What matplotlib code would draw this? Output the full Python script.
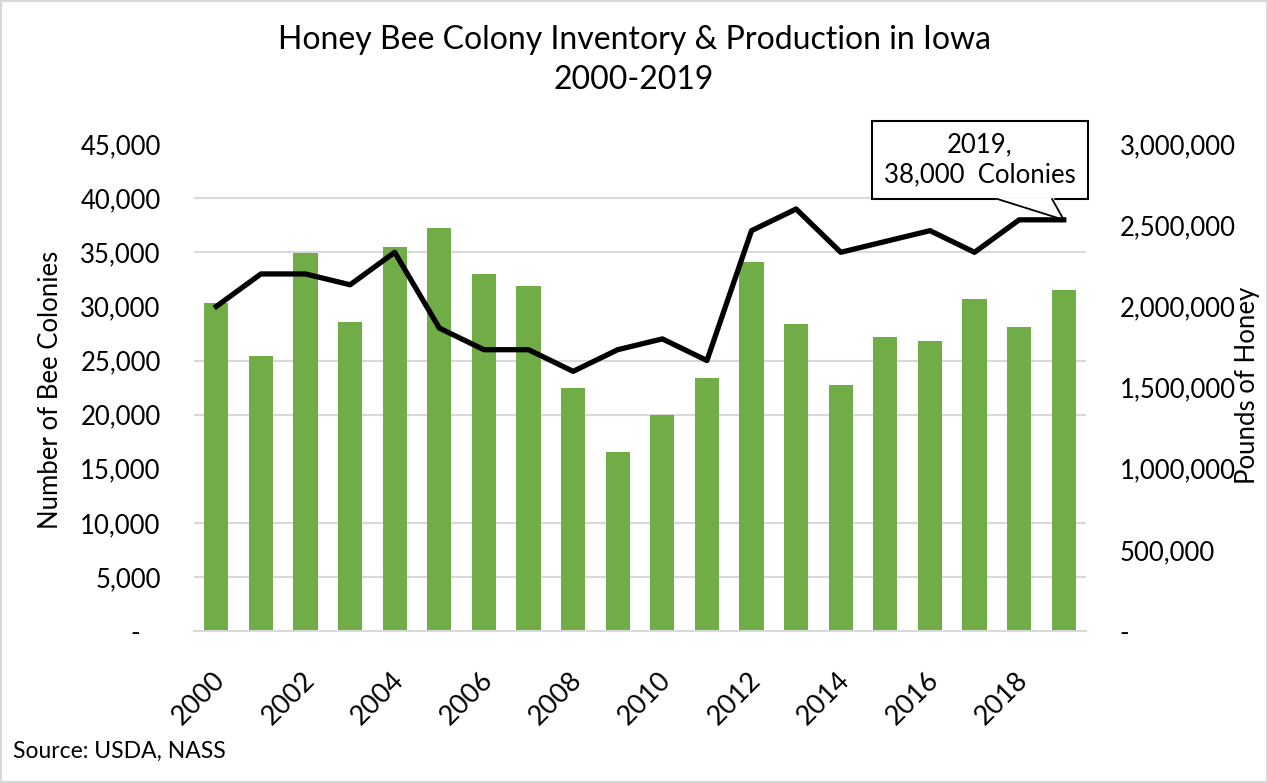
import matplotlib
matplotlib.use('Agg')

import numpy as np
import matplotlib.pyplot as plt
from matplotlib.ticker import FuncFormatter, FixedLocator, MultipleLocator
from matplotlib.patches import Rectangle
from matplotlib.lines import Line2D
from matplotlib.transforms import ScaledTranslation

# data
years = list(range(2000, 2020))
colonies = [30000, 33000, 33000, 32000, 35000, 28000, 26000, 26000, 24000, 26000,
            27000, 25000, 37000, 39000, 35000, 36000, 37000, 35000, 38000, 38000]
honey_lbs = [2022000, 1697000, 2326000, 1901000, 2363000, 2480000, 2197000, 2123000, 1500000, 1106000,
             1334000, 1562000, 2271000, 1889000, 1519000, 1813000, 1790000, 2043000, 1876000, 2102000]

plt.rcParams['font.family'] = ['Lato', 'DejaVu Sans']

fig = plt.figure(figsize=(12.68, 7.83), dpi=100)
ax = fig.add_axes([0.153, 0.194, 0.7035, 0.622])
ax2 = ax.twinx()
x = np.arange(len(years))

# bars = pounds of honey (right axis)
ax2.bar(x, honey_lbs, width=0.54, color='#70AD47', zorder=2)
ax2.set_ylim(0, 3000000)
ax2.yaxis.set_major_locator(MultipleLocator(500000))
ax2.yaxis.set_minor_locator(FixedLocator(np.linspace(0, 3000000, 10)))
ax2.grid(which='minor', axis='y', color='#D9D9D9', lw=1.5)
ax2.set_axisbelow(True)
ax2.tick_params(axis='y', which='both', length=0, labelsize=18.5, pad=24)
ax2.yaxis.set_major_formatter(FuncFormatter(lambda v, p: '-' if v == 0 else f'{v:,.0f}'))

# line = number of colonies (left axis), drawn on top
ax.set_zorder(ax2.get_zorder() + 1)
ax.patch.set_visible(False)
ax.plot(x, colonies, color='black', lw=3.8, zorder=3)
ax.set_ylim(0, 45000)
ax.set_xlim(-0.5, len(years) - 0.5)
ax.yaxis.set_major_locator(MultipleLocator(5000))
ax.yaxis.set_major_formatter(FuncFormatter(lambda v, p: '-   ' if v == 0 else f'{v:,.0f}'))
ax.tick_params(axis='y', length=0, labelsize=18.5, pad=24)

ax.set_xticks(x[::2])
ax.set_xticklabels(years[::2], rotation=45, ha='right', va='center', rotation_mode='anchor')
ax.tick_params(axis='x', length=0, labelsize=19.5, pad=0)
offset = ScaledTranslation(0.05, -0.45, fig.dpi_scale_trans)
for lbl in ax.get_xticklabels():
    lbl.set_transform(lbl.get_transform() + offset)

for a in (ax, ax2):
    for s in a.spines.values():
        s.set_visible(False)
ax.spines['bottom'].set_visible(True)
ax.spines['bottom'].set_color('#D9D9D9')
ax.spines['bottom'].set_linewidth(1.5)

# callout for the last point
bx0, by0, bw, bh = 0.760, 0.887, 0.242, 0.160
ax.add_patch(Rectangle((bx0, by0), bw, bh, transform=ax.transAxes, facecolor='white',
                       edgecolor='black', lw=1.5, clip_on=False, zorder=10))
tip = ax.transAxes.inverted().transform(ax.transData.transform((x[-1], colonies[-1])))
b1, b2 = 0.901, 0.962
ax.add_line(Line2D([b1, b2], [by0, by0], transform=ax.transAxes, color='white', lw=2.5,
                   clip_on=False, zorder=11))
ax.add_line(Line2D([b1, tip[0], b2], [by0, tip[1], by0], transform=ax.transAxes, color='black',
                   lw=1.3, clip_on=False, zorder=12))
ax.text(bx0 + bw / 2, by0 + bh / 2, f'{years[-1]},\n{colonies[-1]:,}  Colonies', transform=ax.transAxes,
        ha='center', va='center', fontsize=18.5, zorder=13, linespacing=1.25)

fig.text(0.5, 1 - 40 / 783, 'Honey Bee Colony Inventory & Production in Iowa', ha='center', va='center', fontsize=23)
fig.text(0.5, 1 - 80 / 783, '2000-2019', ha='center', va='center', fontsize=23)
fig.text(51 / 1268, 0.502, 'Number of Bee Colonies', rotation=90, ha='center', va='center', fontsize=18.5)
fig.text(1247 / 1268, 0.508, 'Pounds of Honey', rotation=90, ha='center', va='center', fontsize=18.5)
fig.text(13 / 1268, 1 - 751 / 783, 'Source: USDA, NASS', ha='left', va='center', fontsize=16.5)

fig.patches.append(Rectangle((0, 0), 1, 1, transform=fig.transFigure, fill=False,
                             edgecolor='#D9D9D9', lw=3))

plt.savefig('out.png', dpi=100)
plt.close()
